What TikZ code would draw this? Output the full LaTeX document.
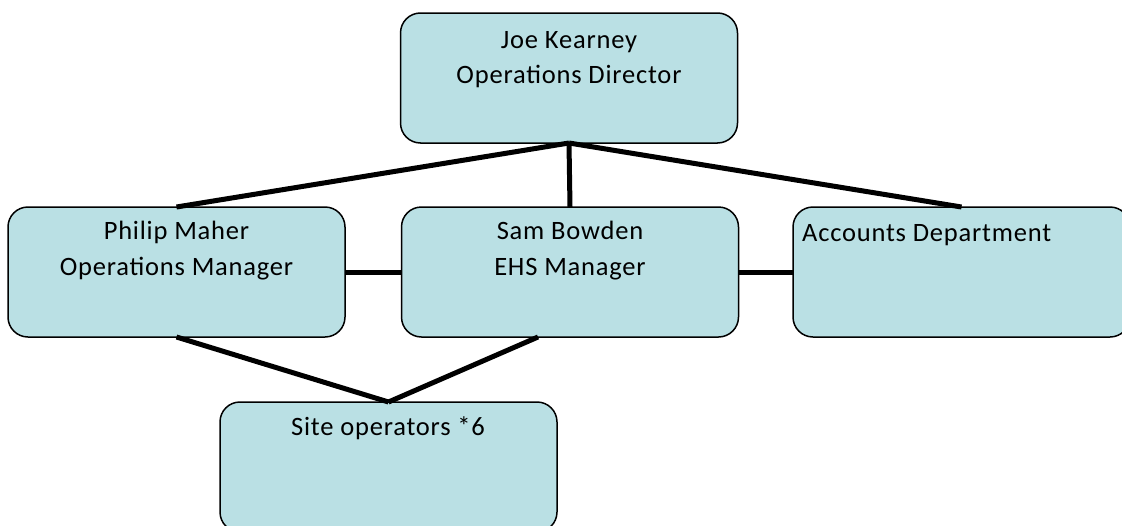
\documentclass[tikz,border=0pt]{standalone}
\usepackage{fontspec}
\setmainfont{Carlito}[LetterSpace=3.0]
\usetikzlibrary{calc}
\definecolor{boxfill}{RGB}{186,224,228}
\begin{document}
\begin{tikzpicture}[x=1pt,y=-1pt,
  orgbox/.style={draw=black,line width=1.5pt,fill=boxfill,rounded corners=20pt,
    minimum width=337pt,minimum height=130pt,inner sep=0pt,outer sep=0pt},
  lbl/.style={anchor=base,inner sep=0pt,font=\fontsize{26.5}{30}\selectfont},
  link/.style={line width=5pt,line cap=butt}]
\useasboundingbox (0,0) rectangle (1122,525);
\clip (0,0) rectangle (1122,525);
% boxes
\node[orgbox] (joe) at (569,78) {};
\node[orgbox] (philip) at (176.5,272) {};
\node[orgbox] (sam) at (570,272) {};
\node[orgbox] (acc) at (961.5,272) {};
\node[orgbox] (site) at (388.5,467) {};
% connectors
\coordinate (samout) at ($(sam.south)+(-32,0)$);
\draw[link] (joe.south) -- (philip.north);
\draw[link] (joe.south) -- (sam.north);
\draw[link] (joe.south) -- (acc.north);
\draw[link] (philip.east) -- (sam.west);
\draw[link] (sam.east) -- (acc.west);
\draw[link] (philip.south) -- (site.north);
\draw[link] (samout) -- (site.north);
% labels
\node[lbl] (j1) at (569,48) {Joe Kearney};
\node[lbl] (j2) at (569,83) {Operations Director};
\node[lbl] (p1) at (176.5,239) {Philip Maher};
\node[lbl] (p2) at (176.5,275) {Operations Manager};
\node[lbl] (s1) at (570,239) {Sam Bowden};
\node[lbl] (s2) at (570,275) {EHS Manager};
\node[lbl,anchor=base west] (a1) at (802,241) {Accounts Department};
\node[lbl] (o1) at (388,435) {Site operators *6};
\end{tikzpicture}
\end{document}
